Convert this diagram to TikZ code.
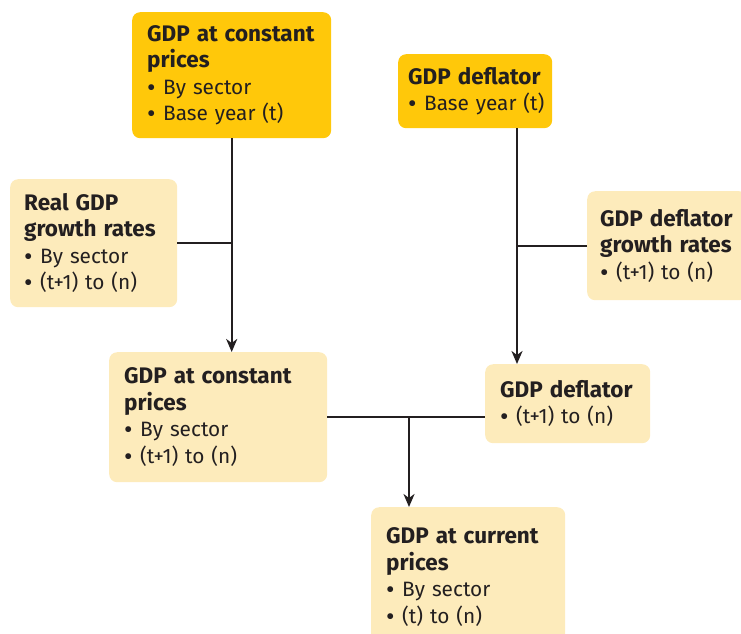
\documentclass[tikz,border=0pt]{standalone}
\usepackage{fontspec}
\setmainfont{Fira Sans}
\usepackage{tikz}
\usetikzlibrary{arrows.meta, positioning}
\usepackage{xcolor}

\definecolor{gdpdark}{RGB}{255,200,10}
\definecolor{gdplight}{RGB}{253,235,187}
\definecolor{gdptext}{RGB}{35,31,32}
\newcommand{\dotitem}{\makebox[16pt][l]{\raisebox{-1.8pt}{\scalebox{1.25}{\textbullet}}}}
\newcommand{\hd}[1]{\mbox{\fontsize{22.5}{26.5}\selectfont\bfseries #1}}

\begin{document}
\begin{tikzpicture}[
  x=1pt, y=-1pt,
  font=\fontsize{20.8}{26.5}\selectfont, text=gdptext,
  darkbox/.style={rectangle, rounded corners=8pt, fill=gdpdark, anchor=north west, align=left, inner xsep=15pt, inner ysep=0pt},
  lightbox/.style={rectangle, rounded corners=8pt, fill=gdplight, anchor=north west, align=left, inner xsep=15pt, inner ysep=0pt},
  flow/.style={line width=2.2pt, draw=gdptext, -{Stealth[length=13pt,width=11pt,inset=4pt]}},
  feed/.style={line width=2pt, draw=gdptext}
]
\useasboundingbox (0,0) rectangle (741,633);

% Nodes
\node[darkbox, text width=169pt, minimum height=126pt] (constbase) at (132,12)
  {\hd{GDP at constant}\\\hd{prices}\\\dotitem By sector\\\mbox{\dotitem Base year (t)}};
\node[darkbox, text width=134pt, minimum height=74pt, inner xsep=10pt] (deflbase) at (398,54)
  {\hd{GDP deflator}\\\mbox{\dotitem Base year (t)}};
\node[lightbox, text width=139pt, minimum height=128pt, inner xsep=14pt] (realrate) at (10,179)
  {\hd{Real GDP}\\\hd{growth rates}\\\dotitem By sector\\\mbox{\dotitem (t+1) to (n)}};
\node[lightbox, text width=134pt, minimum height=109pt, inner xsep=13pt] (deflrate) at (587,191)
  {\hd{GDP deflator}\\\hd{growth rates}\\\mbox{\dotitem (t+1) to (n)}};
\node[lightbox, text width=188pt, minimum height=130pt] (constnext) at (109,352)
  {\hd{GDP at constant}\\\hd{prices}\\\dotitem By sector\\\mbox{\dotitem (t+1) to (n)}};
\node[lightbox, text width=135pt, minimum height=79pt] (deflnext) at (485,364)
  {\hd{GDP deflator}\\\mbox{\dotitem (t+1) to (n)}};
\node[lightbox, text width=164pt, minimum height=140pt] (current) at (371,507)
  {\hd{GDP at current}\\\hd{prices}\\\dotitem By sector\\\mbox{\dotitem (t) to (n)}};

\coordinate (drop) at (517,0);
\coordinate (merge) at (409,417);

% Connections
\draw[flow] (constbase.south) -- (constbase.south |- constnext.north);
\draw[feed] (realrate.east) -- (realrate.east -| constbase.south);
\draw[flow] (drop |- deflbase.south) -- (drop |- deflnext.north);
\draw[feed] (deflrate.west) -- (deflrate.west -| drop);
\draw[feed] (merge -| constnext.east) -- (merge -| deflnext.west);
\draw[flow] (merge) -- (merge |- current.north);

\end{tikzpicture}
\end{document}
